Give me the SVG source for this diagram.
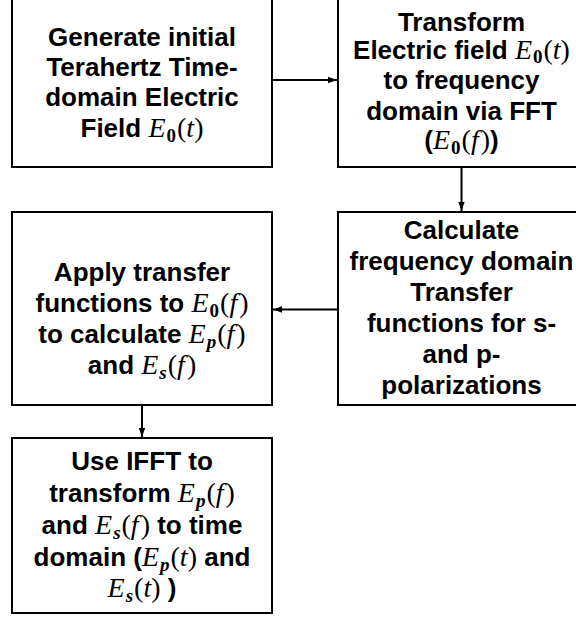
<svg xmlns="http://www.w3.org/2000/svg" width="576" height="619" viewBox="0 0 576 619">
<defs>
<style>
.box{fill:#fff;stroke:#000;stroke-width:2}
.t{font-family:"Liberation Sans",Arial,sans-serif;font-weight:bold;font-size:26px;fill:#000;text-anchor:middle}
.m{font-family:"Liberation Serif","Times New Roman",serif;font-style:italic;font-weight:normal;font-size:28px}
.u{font-family:"Liberation Serif","Times New Roman",serif;font-style:normal;font-weight:normal;font-size:28px}
.s0{font-family:"Liberation Serif","Times New Roman",serif;font-style:normal;font-weight:bold;font-size:19px}
.si{font-family:"Liberation Serif","Times New Roman",serif;font-style:italic;font-weight:bold;font-size:19px}
.c{stroke:#000;stroke-width:2;fill:none}
</style>
<marker id="ah" markerUnits="userSpaceOnUse" markerWidth="10" markerHeight="8" refX="9" refY="4" orient="auto">
<path d="M0,0.8 L9,4 L0,7.2 Z" fill="#000"/>
</marker>
</defs>
<rect width="576" height="619" fill="#fff"/>
<g id="connectors">
<line class="c" x1="272" y1="80" x2="337" y2="80" marker-end="url(#ah)"/>
<line class="c" x1="461.5" y1="167" x2="461.5" y2="211" marker-end="url(#ah)"/>
<line class="c" x1="338" y1="309.5" x2="273" y2="309.5" marker-end="url(#ah)"/>
<line class="c" x1="142" y1="405" x2="142" y2="437" marker-end="url(#ah)"/>
</g>
<g id="node1">
<rect class="box" x="12" y="-5" width="260" height="172"/>
<text class="t" x="142" y="46">Generate initial</text>
<text class="t" x="142" y="76">Terahertz Time-</text>
<text class="t" x="142" y="106">domain Electric</text>
<text class="t" x="142" y="137">Field <tspan class="m">E</tspan><tspan class="s0" dx="1" dy="5">0</tspan><tspan class="u" dx="1" dy="-5">(</tspan><tspan class="m">t</tspan><tspan class="u">)</tspan></text>
</g>
<g id="node2">
<rect class="box" x="338" y="-5" width="247" height="172"/>
<text class="t" x="461.5" y="31">Transform</text>
<text class="t" x="461.5" y="59">Electric field <tspan class="m">E</tspan><tspan class="s0" dx="1" dy="4">0</tspan><tspan class="u" dx="1" dy="-4">(</tspan><tspan class="m">t</tspan><tspan class="u">)</tspan></text>
<text class="t" x="461.5" y="89">to frequency</text>
<text class="t" x="461.5" y="119.5">domain via FFT</text>
<text class="t" x="461.5" y="148.5">(<tspan class="m">E</tspan><tspan class="s0" dx="1" dy="5">0</tspan><tspan class="u" dx="1" dy="-5">(</tspan><tspan class="m">f</tspan><tspan class="u" dx="2">)</tspan>)</text>
</g>
<g id="node3">
<rect class="box" x="338" y="212" width="247" height="193"/>
<text class="t" x="461.5" y="239">Calculate</text>
<text class="t" x="461.5" y="270">frequency domain</text>
<text class="t" x="461.5" y="301">Transfer</text>
<text class="t" x="461.5" y="332">functions for s-</text>
<text class="t" x="461.5" y="363">and p-</text>
<text class="t" x="461.5" y="394">polarizations</text>
</g>
<g id="node4">
<rect class="box" x="12" y="212" width="260" height="193"/>
<text class="t" x="142" y="281">Apply transfer</text>
<text class="t" x="142" y="312">functions to <tspan class="m">E</tspan><tspan class="s0" dx="1" dy="5">0</tspan><tspan class="u" dx="1" dy="-5">(</tspan><tspan class="m">f</tspan><tspan class="u" dx="2">)</tspan></text>
<text class="t" x="142" y="343">to calculate <tspan class="m">E</tspan><tspan class="si" dx="1" dy="5">p</tspan><tspan class="u" dx="1" dy="-5">(</tspan><tspan class="m">f</tspan><tspan class="u" dx="2">)</tspan></text>
<text class="t" x="142" y="374">and <tspan class="m">E</tspan><tspan class="si" dx="1" dy="5">s</tspan><tspan class="u" dx="1" dy="-5">(</tspan><tspan class="m">f</tspan><tspan class="u" dx="2">)</tspan></text>
</g>
<g id="node5">
<rect class="box" x="12" y="438" width="260" height="175"/>
<text class="t" x="142" y="470">Use IFFT to</text>
<text class="t" x="142" y="501.5">transform <tspan class="m">E</tspan><tspan class="si" dx="1" dy="5">p</tspan><tspan class="u" dx="1" dy="-5">(</tspan><tspan class="m">f</tspan><tspan class="u" dx="2">)</tspan></text>
<text class="t" x="142" y="534">and <tspan class="m">E</tspan><tspan class="si" dx="1" dy="5">s</tspan><tspan class="u" dx="1" dy="-5">(</tspan><tspan class="m">f</tspan><tspan class="u" dx="2">)</tspan> to time</text>
<text class="t" x="142" y="566">domain (<tspan class="m">E</tspan><tspan class="si" dx="1" dy="5">p</tspan><tspan class="u" dx="1" dy="-5">(</tspan><tspan class="m">t</tspan><tspan class="u">)</tspan> and</text>
<text class="t" x="142" y="597"><tspan class="m">E</tspan><tspan class="si" dx="1" dy="5">s</tspan><tspan class="u" dx="1" dy="-5">(</tspan><tspan class="m">t</tspan><tspan class="u">)</tspan> )</text>
</g>
</svg>
